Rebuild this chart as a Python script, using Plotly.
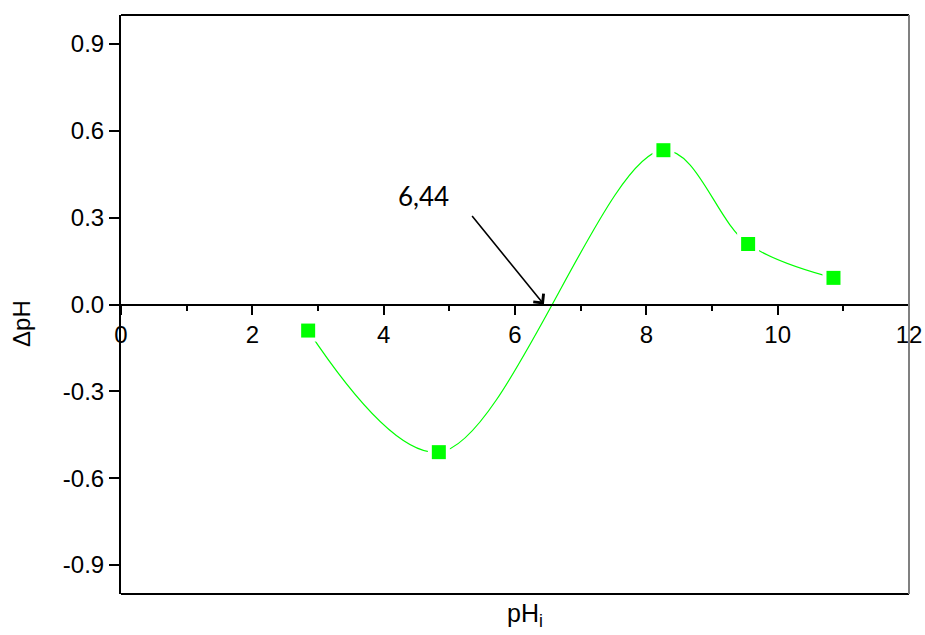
import plotly.graph_objects as go

# Measured ΔpH against initial pH
ph_initial = [2.85, 4.84, 8.26, 9.55, 10.85]
delta_ph = [-0.090, -0.51, 0.533, 0.209, 0.092]

# Point of zero charge marked on the chart
pzc_value = 6.44
pzc_label = "6,44"

x_ticks = [0, 2, 4, 6, 8, 10, 12]
y_ticks = [-0.9, -0.6, -0.3, 0.0, 0.3, 0.6, 0.9]
y_tick_text = ["-0.9", "-0.6", "-0.3", "0.0", "0.3", "0.6", "0.9"]

x_range = [0, 12]
y_range = [-1.0, 1.0]

GREEN = "#00FF00"
FONT = "Liberation Sans, Arial, sans-serif"

fig = go.Figure()

# smooth curve through the measurements
fig.add_trace(go.Scatter(
    x=ph_initial, y=delta_ph, mode="lines",
    line=dict(color=GREEN, width=1.2, shape="spline", smoothing=1.0),
    hoverinfo="skip", showlegend=False,
))
# white pads so the curve stops short of each symbol
fig.add_trace(go.Scatter(
    x=ph_initial, y=delta_ph, mode="markers",
    marker=dict(symbol="square", size=22, color="white", line=dict(width=0)),
    hoverinfo="skip", showlegend=False,
))
fig.add_trace(go.Scatter(
    x=ph_initial, y=delta_ph, mode="markers",
    marker=dict(symbol="square", size=14, color=GREEN, line=dict(width=0)),
    showlegend=False,
))

zero_pos = (0 - y_range[0]) / (y_range[1] - y_range[0])

fig.update_layout(
    width=925, height=635,
    margin=dict(l=121, r=16, t=15, b=41),
    paper_bgcolor="white", plot_bgcolor="white",
    font=dict(family=FONT, size=24, color="black"),
    xaxis=dict(
        range=x_range, tickvals=x_ticks, ticks="outside", ticklen=9,
        tickwidth=2, tickcolor="black", showline=True, linewidth=2,
        linecolor="black", showgrid=False, zeroline=False,
        anchor="free", position=zero_pos, automargin=False,
        minor=dict(dtick=1, ticks="outside", ticklen=5, tickwidth=2,
                   tickcolor="black", showgrid=False),
        tickfont=dict(family=FONT, size=24),
    ),
    yaxis=dict(
        range=y_range, tickvals=y_ticks, ticktext=y_tick_text,
        ticks="outside", ticklen=10, tickwidth=2, tickcolor="black",
        showline=True, linewidth=2, linecolor="black",
        showgrid=False, zeroline=False, automargin=False,
        tickfont=dict(family=FONT, size=24),
    ),
    shapes=[
        dict(type="line", xref="paper", yref="paper", x0=0, x1=1, y0=1, y1=1,
             line=dict(color="black", width=2)),
        dict(type="line", xref="paper", yref="paper", x0=0, x1=1, y0=0, y1=0,
             line=dict(color="black", width=2)),
        dict(type="line", xref="paper", yref="paper", x0=1, x1=1, y0=0, y1=1,
             line=dict(color="#808080", width=2)),
    ],
    annotations=[
        dict(text="pH<sub>i</sub>", xref="paper", yref="paper",
             x=0.513, y=-0.036, xanchor="center", yanchor="middle",
             showarrow=False, font=dict(family=FONT, size=25)),
        dict(text="ΔpH", xref="paper", yref="paper", textangle=-90,
             x=-0.127, y=0.468, xanchor="center", yanchor="middle",
             showarrow=False, font=dict(family=FONT, size=24)),
        dict(text="", x=pzc_value, y=0, xref="x", yref="y",
             showarrow=True, ax=-73, ay=-90, arrowhead=4, arrowsize=1.6,
             arrowwidth=1.6, arrowcolor="black"),
        dict(text=pzc_label, x=4.60, y=0.375, xref="x", yref="y",
             showarrow=False, font=dict(family="Lato, sans-serif", size=26)),
    ],
)

fig.write_html("out.html")
